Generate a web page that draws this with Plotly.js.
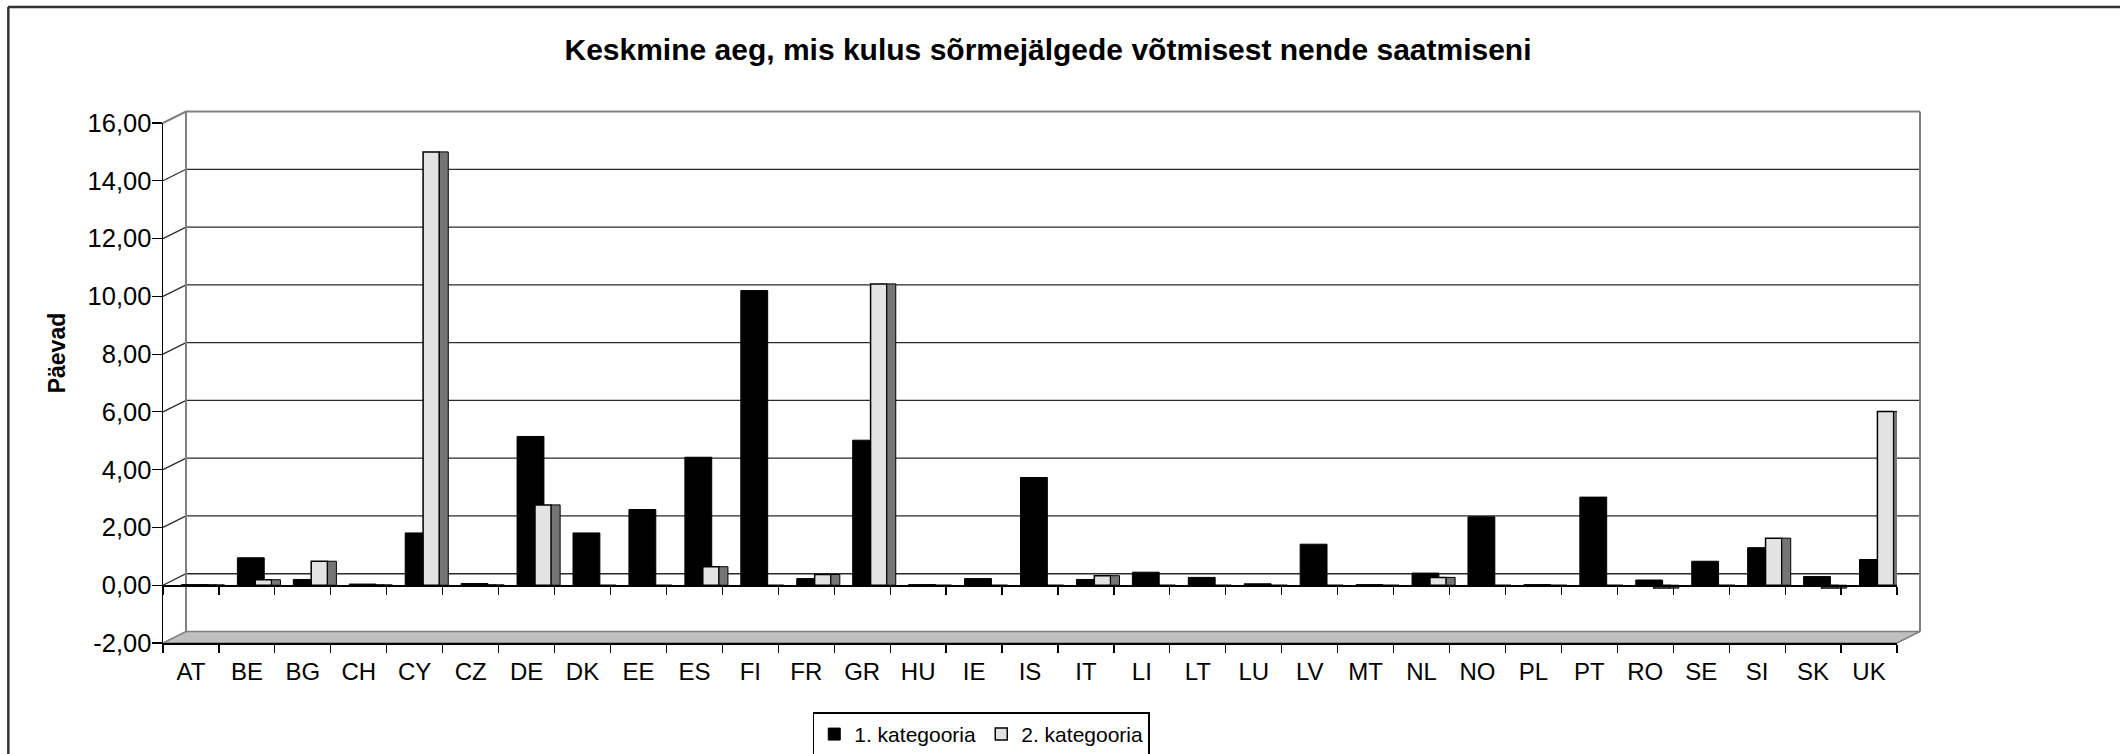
<!DOCTYPE html>
<html>
<head>
<meta charset="utf-8">
<script src="https://cdn.plot.ly/plotly-3.0.1.min.js"></script>
<style>
  html, body { margin: 0; padding: 0; background: #ffffff; }
  #chart { width: 2120px; height: 754px; }
</style>
</head>
<body>
<div id="chart"></div>
<script>
// ---- data ----
const countries = ["AT","BE","BG","CH","CY","CZ","DE","DK","EE","ES","FI","FR","GR","HU","IE","IS","IT","LI","LT","LU","LV","MT","NL","NO","PL","PT","RO","SE","SI","SK","UK"];
const category1 = [0.02,0.95,0.20,0.04,1.81,0.06,5.15,1.81,2.62,4.43,10.20,0.23,5.02,0.02,0.23,3.73,0.20,0.45,0.27,0.05,1.42,0.02,0.42,2.37,0.02,3.05,0.18,0.83,1.30,0.30,0.89];
const category2 = [0.01,0.19,0.83,0.01,15.00,0.01,2.78,0.00,0.00,0.64,0.00,0.37,10.43,0.00,0.00,0.00,0.33,0.00,0.00,0.00,0.00,0.00,0.27,0.00,0.00,0.00,-0.10,0.00,1.63,-0.10,6.01];
const seriesNames = ["1. kategooria", "2. kategooria"];
const yTickValues = [-2, 0, 2, 4, 6, 8, 10, 12, 14, 16];
const chartTitle = "Keskmine aeg, mis kulus sõrmejälgede võtmisest nende saatmiseni";
const yTitle = "Päevad";

// tick labels with decimal comma and a plain hyphen for negatives
const yTickText = yTickValues.map(v => v.toFixed(2).replace(".", ","));

// ---- geometry (pixels) ----
const W = 2120, H = 754;
const L = 162.5, R = 1897, T = 123, B = 643.5;
const DX = 23, DY = 11.5;          // depth offset of the back wall
const yMin = -2, yMax = 16;
const PW = R - L, PH = B - T;
const px = v => (v - L) / PW;      // pixel -> paper x
const py = v => (B - v) / PH;      // pixel -> paper y
const yPix = v => B - (v - yMin) * PH / (yMax - yMin);
const FONT = "Liberation Sans, Arial, Helvetica, sans-serif";

const shapes = [];
// floor (grey band at -2)
shapes.push({
  type: "path", xref: "paper", yref: "paper", layer: "below",
  path: `M${px(L)},${py(B)} L${px(R)},${py(B)} L${px(R + DX)},${py(B - DY)} L${px(L + DX)},${py(B - DY)} Z`,
  fillcolor: "#c0c0c0", line: { color: "#808080", width: 1.5 }
});
// back wall gridlines (with side-wall diagonal)
yTickValues.filter(v => v > yMin).forEach(v => {
  const yf = yPix(v);
  const isTop = v === yMax;
  shapes.push({
    type: "path", xref: "paper", yref: "paper", layer: "below",
    path: `M${px(L)},${py(yf)} L${px(L + DX)},${py(yf - DY)} L${px(R + DX)},${py(yf - DY)}`,
    line: { color: isTop ? "#808080" : "#2a2a2a", width: isTop ? 2 : 1.3 }
  });
});
// back wall vertical edges
[L + DX, R + DX].forEach(xx => {
  shapes.push({
    type: "line", xref: "paper", yref: "paper", layer: "below",
    x0: px(xx), x1: px(xx), y0: py(yPix(yMax) - DY), y1: py(yPix(yMin) - DY),
    line: { color: "#808080", width: 2 }
  });
});
// outer frame (top and left edges)
shapes.push({ type: "line", xref: "paper", yref: "paper", x0: px(7.5), x1: px(2125), y0: py(6.8), y1: py(6.8), line: { color: "#333333", width: 2.5 } });
shapes.push({ type: "line", xref: "paper", yref: "paper", x0: px(7.8), x1: px(7.8), y0: py(6.8), y1: py(760), line: { color: "#333333", width: 2.5 } });

const traces = [
  {
    type: "bar", name: seriesNames[0], x: countries, y: category1,
    offset: -0.17, width: 0.48,
    marker: { color: "#000000", line: { color: "#000000", width: 1 } },
    hoverinfo: "x+y"
  },
  {
    type: "bar", name: seriesNames[1], x: countries, y: category2,
    offset: 0.15, width: 0.29,
    marker: { color: "#e3e3e3", line: { color: "#000000", width: 1.5 } },
    hoverinfo: "x+y"
  },
  {
    // darker side face of the 3-D light columns
    type: "bar", name: seriesNames[1], x: countries, y: category2,
    offset: 0.44, width: 0.16, showlegend: false,
    marker: { color: "#757575", line: { color: "#000000", width: 1 } },
    hoverinfo: "skip"
  },
  {
    // carrier for the zero-level category axis
    type: "scatter", mode: "markers", x: [], y: [], xaxis: "x2", yaxis: "y",
    showlegend: false, hoverinfo: "skip"
  }
];

const layout = {
  width: W, height: H,
  paper_bgcolor: "#ffffff", plot_bgcolor: "rgba(0,0,0,0)",
  margin: { l: L, r: W - R, t: T, b: H - B, pad: 0, autoexpand: false },
  separators: ", ",
  font: { family: FONT, color: "#000000" },
  barmode: "overlay",
  title: {
    text: chartTitle,
    font: { family: FONT, size: 30, weight: 700, color: "#000000" },
    x: 1048 / W, xref: "container", xanchor: "center",
    y: 1 - 49 / H, yref: "container", yanchor: "middle"
  },
  xaxis: {
    type: "category", categoryorder: "array", categoryarray: countries,
    range: [-0.5, countries.length - 0.5],
    showline: true, linecolor: "#000000", linewidth: 1.5,
    ticks: "outside", tickson: "boundaries", ticklen: 8, tickcolor: "#000000", tickwidth: 1.2,
    ticklabelstandoff: 7,
    showgrid: false, tickfont: { family: FONT, size: 24, color: "#000000" },
    fixedrange: true
  },
  xaxis2: {
    type: "linear", overlaying: "x", anchor: "free", side: "bottom",
    position: py(yPix(0)),
    range: [-0.5, countries.length - 0.5], tick0: 0.5, dtick: 1,
    showline: true, linecolor: "#000000", linewidth: 1.5,
    ticks: "outside", ticklen: 8, tickcolor: "#000000", tickwidth: 1.2,
    showticklabels: false, showgrid: false, zeroline: false, fixedrange: true
  },
  yaxis: {
    range: [yMin, yMax], tickvals: yTickValues, ticktext: yTickText,
    showline: true, linecolor: "#000000", linewidth: 1.5,
    ticks: "outside", ticklen: 10, tickcolor: "#000000", tickwidth: 1.2,
    ticklabelstandoff: -5,
    showgrid: false, zeroline: false,
    tickfont: { family: FONT, size: 25.5, color: "#000000" },
    fixedrange: true
  },
  showlegend: true,
  legend: {
    orientation: "h", x: px(981), xanchor: "center", y: py(713), yanchor: "top",
    bordercolor: "#000000", borderwidth: 1.5, bgcolor: "#ffffff",
    font: { family: FONT, size: 21, color: "#000000" },
    itemwidth: 30, traceorder: "normal", entrywidth: 122, entrywidthmode: "pixels"
  },
  annotations: [{
    text: yTitle, textangle: -90, showarrow: false,
    xref: "paper", yref: "paper", x: px(56), y: py(353),
    xanchor: "center", yanchor: "middle",
    font: { family: FONT, size: 23, weight: 700, color: "#000000" }
  }],
  shapes: shapes
};

Plotly.newPlot("chart", traces, layout, { displayModeBar: false, staticPlot: true });
</script>
</body>
</html>
